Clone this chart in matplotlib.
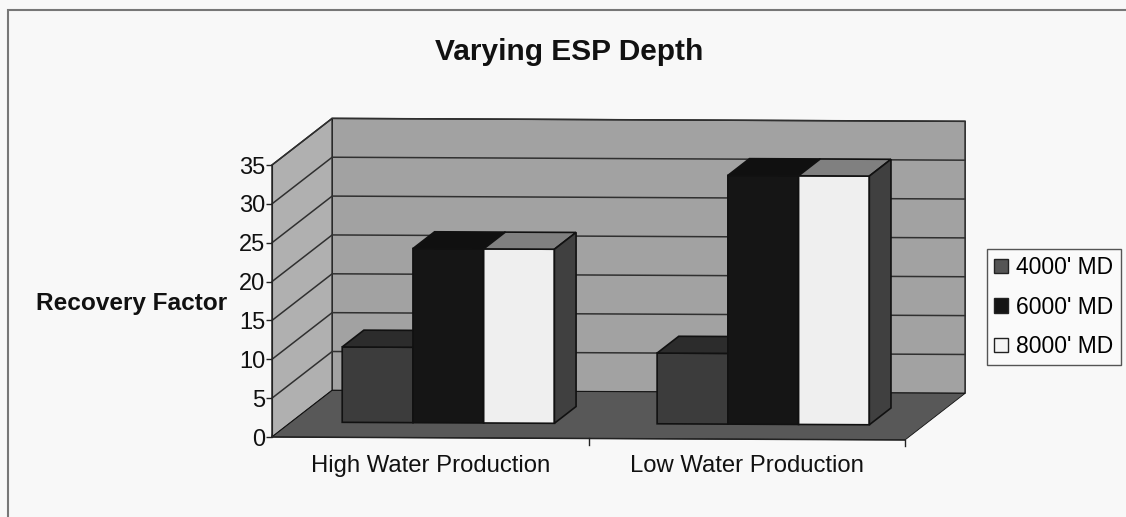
import matplotlib
matplotlib.use("Agg")
import matplotlib.pyplot as plt
from matplotlib.patches import Patch, Rectangle

plt.rcParams['font.family'] = ['Liberation Sans', 'DejaVu Sans']

title = "Varying ESP Depth"
ylabel = "Recovery Factor"
categories = ["High Water Production", "Low Water Production"]
series = ["4000' MD", "6000' MD", "8000' MD"]
high_water = [9.7, 22.4, 22.4]
low_water = [9.1, 32.0, 32.0]
yticks = [0, 5, 10, 15, 20, 25, 30, 35]

# fake 3d: depth runs up and to the right, scan is also tilted a bit
depth_x = 0.19
depth_y = 6.0
tilt = 0.19
bar_w = 0.2235
bar_front = 0.32
bar_back = 0.68
group_left = [0.161, 1.156]

front_col = ['#3c3c3c', '#151515', '#efefef']
top_col = ['#2c2c2c', '#101010', '#808080']
side_col = ['#3c3c3c', '#151515', '#404040']


def pr(x, v, d=0.0):
    return x + d * depth_x, v + d * depth_y - tilt * x


def poly(ax, pts, col, z, lw=1.0):
    xs = [p[0] for p in pts]
    ys = [p[1] for p in pts]
    ax.fill(xs, ys, facecolor=col, edgecolor='#111111', linewidth=lw, zorder=z, clip_on=False)


fig = plt.figure(figsize=(11.26, 5.17), dpi=100, facecolor='#f8f8f8')
ax = fig.add_axes([272 / 1126, 80 / 517, 633 / 1126, 272 / 517])
ax.set_xlim(0, 2)
ax.set_ylim(0, 35)
ax.patch.set_alpha(0)

# walls and floor
poly(ax, [pr(0, 0), pr(0, 0, 1), pr(2, 0, 1), pr(2, 35, 1), pr(0, 35, 1)], '#a2a2a2', 1)
poly(ax, [pr(0, 0), pr(0, 35), pr(0, 35, 1), pr(0, 0, 1)], '#b0b0b0', 1)
poly(ax, [pr(0, 0), pr(2, 0), pr(2, 0, 1), pr(0, 0, 1)], '#585858', 2, lw=0.6)

for t in yticks[1:]:
    a, b, c = pr(0, t), pr(0, t, 1), pr(2, t, 1)
    ax.plot([a[0], b[0], c[0]], [a[1], b[1], c[1]], color='#303030', lw=1.1, zorder=1.5, clip_on=False)

# bars
for g, vals in enumerate([high_water, low_water]):
    for i, v in enumerate(vals):
        x0 = group_left[g] + i * bar_w
        x1 = x0 + bar_w
        z = 3 + g + i * 0.1
        poly(ax, [pr(x0, 0, bar_front), pr(x1, 0, bar_front), pr(x1, v, bar_front), pr(x0, v, bar_front)], front_col[i], z, 1.2)
        poly(ax, [pr(x0, v, bar_front), pr(x1, v, bar_front), pr(x1, v, bar_back), pr(x0, v, bar_back)], top_col[i], z, 1.2)
        poly(ax, [pr(x1, 0, bar_front), pr(x1, 0, bar_back), pr(x1, v, bar_back), pr(x1, v, bar_front)], side_col[i], z, 1.2)

# axes
for s in ['top', 'right', 'bottom']:
    ax.spines[s].set_visible(False)
ax.spines['left'].set_color('#222222')
ax.spines['left'].set_zorder(6)
ax.set_yticks(yticks)
ax.tick_params(axis='y', labelsize=17, length=4, width=1, color='#222222', labelcolor='#111111', pad=1)
ax.set_xticks([0.5, 1.5])
ax.set_xticklabels(categories)
ax.tick_params(axis='x', labelsize=17.2, length=0, pad=13, labelcolor='#111111')
a, b = pr(0, 0), pr(2, 0)
ax.plot([a[0], b[0]], [a[1], b[1]], color='#222222', lw=1.1, zorder=6, clip_on=False)
for x in [1, 2]:
    p = pr(x, 0)
    ax.plot([p[0], p[0]], [p[1], p[1] - 0.8], color='#222222', lw=1, zorder=6, clip_on=False)

ax.set_ylabel(ylabel, rotation=0, ha='right', va='center', fontsize=17.6, fontweight='bold', color='#111111')
ax.yaxis.set_label_coords(-0.071, 0.49)

fig.text(569 / 1126, 1 - 52 / 517, title, ha='center', va='center', fontsize=21.5, fontweight='bold', color='#111111')

handles = [Patch(facecolor=c, edgecolor='#222222') for c in ['#555555', '#151515', '#f5f5f5']]
leg = fig.legend(handles, series, loc='lower left', bbox_to_anchor=(987 / 1126, 1 - 365 / 517, 134 / 1126, 118 / 517),
                 mode='expand', fontsize=16.5, frameon=True, fancybox=False, framealpha=1, facecolor='#fafafa',
                 edgecolor='#555555', handlelength=0.6, handleheight=0.6, handletextpad=0.35, labelspacing=0.72,
                 borderaxespad=0, borderpad=0.3)
leg.get_frame().set_linewidth(1)

# outer frame of the chart area
fig.add_artist(Rectangle((8 / 1126, -0.02), 1.1, 1.02 - 10 / 517, transform=fig.transFigure, fill=False,
                         edgecolor='#777777', linewidth=1.5))

fig.savefig('out.png', dpi=100, facecolor=fig.get_facecolor())
plt.close(fig)
